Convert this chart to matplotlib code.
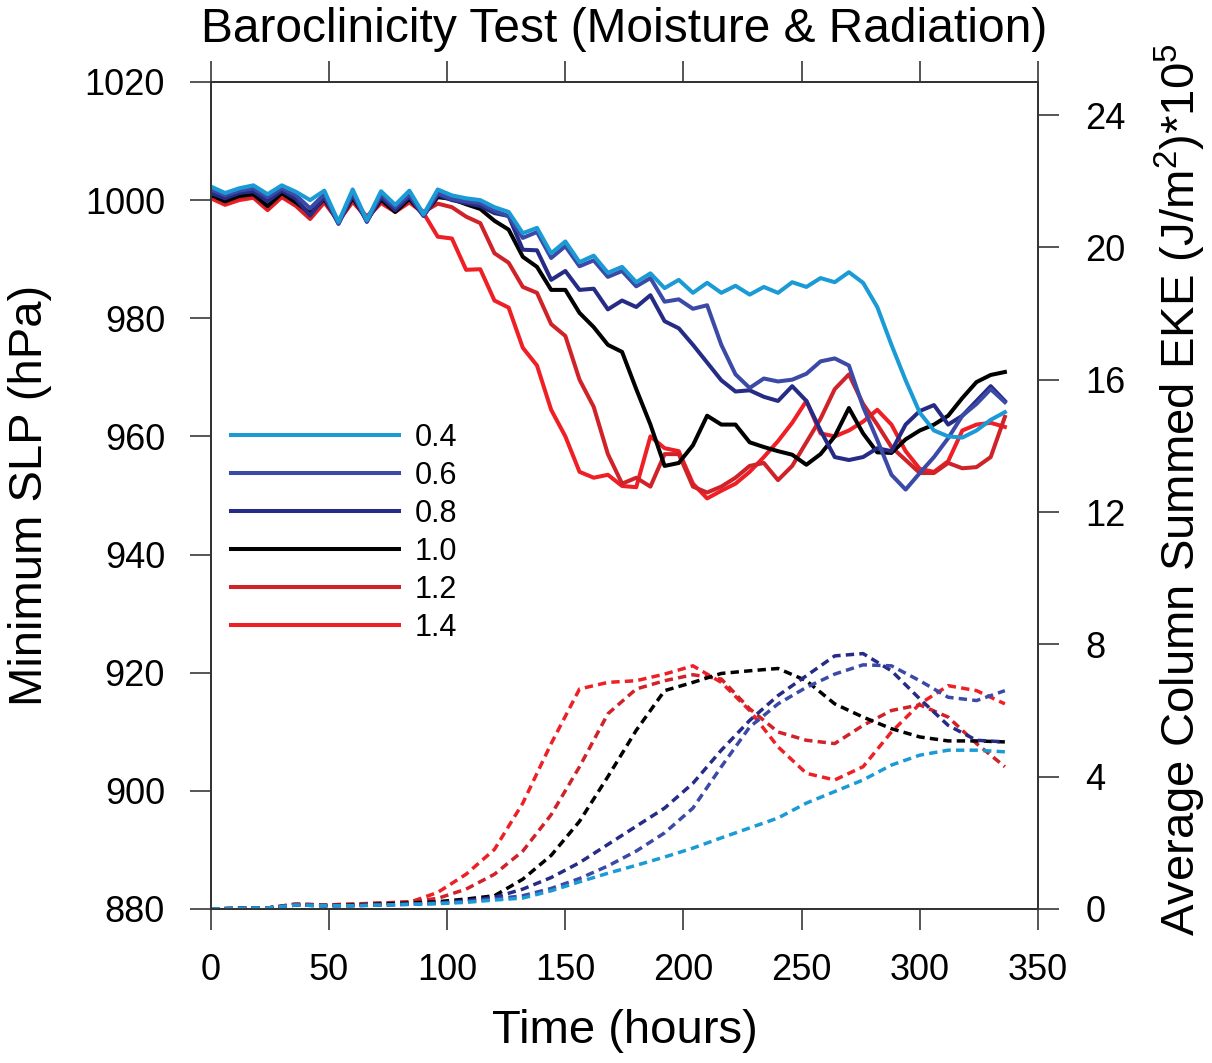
import numpy as np
import matplotlib
matplotlib.use("Agg")
import matplotlib.pyplot as plt

plt.rcParams['font.family'] = ['Liberation Sans', 'DejaVu Sans']
plt.rcParams['mathtext.fontset'] = 'custom'
plt.rcParams['mathtext.rm'] = 'Liberation Sans'
plt.rcParams['mathtext.it'] = 'Liberation Sans'

# heures (SLP toutes les 6 h, EKE toutes les 12 h)
hours_slp = list(range(0, 337, 6))
hours_eke = list(range(0, 337, 12))

labels = ['0.4', '0.6', '0.8', '1.0', '1.2', '1.4']
colors = ['#1b9bd5', '#3c4aa7', '#262b86', '#000000', '#cf2229', '#ef1f26']

# pression minimale (hPa)
slp_04 = [1002.3, 1001.2, 1002.0, 1002.5, 1001.0, 1002.5, 1001.4, 1000.0, 1001.6, 996.3, 1001.8, 996.6,
          1001.5, 999.2, 1001.6, 997.6, 1001.8,
          1000.8, 1000.3, 1000.0, 998.8, 998.0, 994.4, 995.3, 991.0, 993.0, 989.5, 990.6, 987.7, 988.7,
          986.1, 987.6, 985.1, 986.5, 984.3, 986.0, 984.3, 985.5, 984.0, 985.3, 984.3, 986.1, 985.3,
          986.8, 986.1, 987.8, 986.0, 981.9, 975.5, 969.5, 964.0, 961.0, 960.0, 959.8, 961.0, 962.8, 964.1]
slp_06 = [1001.8, 1000.8, 1001.6, 1002.0, 1000.5, 1002.0, 1000.8, 998.6, 1001.0, 996.0, 1001.3, 996.3,
          1001.0, 998.8, 1001.0, 997.4, 1001.2,
          1000.2, 999.8, 999.5, 998.2, 997.3, 993.6, 994.6, 990.2, 992.2, 988.8, 989.8, 987.0, 988.0,
          985.4, 986.8, 982.8, 983.2, 981.6, 982.2, 975.5, 970.5, 968.2, 969.8, 969.3, 969.6, 970.6,
          972.7, 973.2, 972.0, 965.0, 959.4, 953.5, 951.0, 953.8, 956.5, 959.7, 963.5, 965.5, 968.0, 965.8]
slp_08 = [1001.2, 1000.3, 1001.2, 1001.5, 999.8, 1001.6, 1000.2, 997.4, 1000.5, 996.0, 1000.8, 996.4,
          1000.5, 998.3, 1000.6, 997.3, 1000.9,
          1000.0, 999.5, 999.0, 997.8, 997.3, 991.6, 991.5, 986.5, 988.0, 984.8, 985.0, 981.5, 983.0,
          981.9, 983.9, 979.5, 978.3, 975.5, 972.5, 969.5, 967.6, 967.8, 966.7, 966.0, 968.5, 966.0,
          961.0, 956.5, 956.0, 956.5, 958.0, 957.5, 962.0, 964.3, 965.3, 962.0, 963.5, 966.0, 968.5, 966.0]
slp_10 = [1000.9, 999.8, 1000.7, 1001.0, 999.0, 1001.2, 999.6, 997.8, 1000.2, 996.3, 1000.4, 996.6,
          1000.1, 998.0, 1000.2, 997.5, 1000.5,
          1000.2, 999.3, 998.5, 996.5, 995.0, 990.4, 988.7, 984.8, 984.8, 980.9, 978.5, 975.5, 974.3,
          968.0, 962.0, 955.0, 955.5, 958.5, 963.5, 962.0, 962.0, 959.0, 958.2, 957.5, 956.9, 955.2,
          957.0, 960.0, 964.8, 960.5, 957.3, 957.2, 959.5, 961.0, 962.0, 963.5, 966.5, 969.2, 970.4, 970.9]
slp_12 = [1000.6, 999.5, 1000.4, 1000.7, 998.6, 1000.8, 999.2, 997.0, 999.9, 996.5, 1000.0, 997.2,
          999.8, 998.3, 999.9, 998.0, 999.4,
          998.8, 997.2, 996.1, 991.0, 989.4, 985.3, 984.3, 979.0, 977.0, 969.6, 965.0, 957.0, 952.0,
          953.0, 951.5, 957.0, 957.0, 951.5, 950.5, 951.5, 953.0, 955.0, 955.5, 952.6, 955.0, 959.0,
          963.0, 968.0, 970.5, 965.5, 962.0, 958.2, 956.0, 953.8, 953.8, 955.5, 954.6, 954.8, 956.5, 963.3]
slp_14 = [1000.3, 999.2, 1000.0, 1000.4, 998.3, 1000.5, 999.0, 996.8, 999.6, 996.4, 999.7, 997.0,
          999.5, 998.0, 999.6, 997.8, 993.8,
          993.5, 988.2, 988.3, 983.0, 981.8, 975.0, 972.0, 964.5, 960.0, 954.0, 953.0, 953.5, 951.6,
          951.4, 960.0, 958.0, 957.5, 952.0, 949.5, 950.8, 952.0, 954.0, 956.5, 959.2, 962.3, 966.0,
          960.5, 960.0, 961.0, 962.5, 964.5, 962.0, 957.5, 954.5, 954.0, 955.8, 961.0, 962.0, 962.3, 961.6]

# EKE moyenne (x 10^5 J/m2)
eke_04 = [0.0, 0.02, 0.03, 0.12, 0.1, 0.1, 0.12, 0.14, 0.16, 0.2, 0.27, 0.33, 0.55, 0.82, 1.08,
          1.32, 1.57, 1.84, 2.15, 2.45, 2.75, 3.2, 3.55, 3.9, 4.35, 4.65, 4.8, 4.8, 4.75]
eke_06 = [0.0, 0.02, 0.03, 0.12, 0.1, 0.1, 0.12, 0.14, 0.17, 0.22, 0.3, 0.4, 0.62, 0.92, 1.3,
          1.75, 2.3, 3.05, 4.3, 5.5, 6.2, 6.7, 7.1, 7.38, 7.35, 6.9, 6.4, 6.3, 6.6]
eke_08 = [0.0, 0.02, 0.03, 0.12, 0.1, 0.1, 0.12, 0.15, 0.18, 0.25, 0.35, 0.6, 0.95, 1.4, 1.95,
          2.5, 3.05, 3.8, 4.8, 5.7, 6.45, 7.05, 7.65, 7.72, 7.2, 6.35, 5.55, 5.1, 5.05]
eke_10 = [0.0, 0.02, 0.03, 0.12, 0.1, 0.12, 0.15, 0.18, 0.22, 0.3, 0.4, 0.9, 1.62, 2.65, 4.0,
          5.4, 6.6, 6.85, 7.12, 7.2, 7.27, 6.9, 6.2, 5.8, 5.45, 5.2, 5.08, 5.08, 5.05]
eke_12 = [0.0, 0.02, 0.03, 0.15, 0.12, 0.14, 0.18, 0.22, 0.32, 0.6, 1.05, 1.75, 2.85, 4.3, 5.9,
          6.65, 6.9, 7.08, 6.95, 6.05, 5.35, 5.1, 5.0, 5.55, 6.0, 6.17, 5.8, 5.0, 4.3]
eke_14 = [0.0, 0.02, 0.03, 0.15, 0.12, 0.15, 0.18, 0.2, 0.5, 1.05, 1.8, 3.2, 5.0, 6.65, 6.85,
          6.9, 7.1, 7.35, 6.85, 6.0, 4.9, 4.1, 3.9, 4.3, 5.35, 6.2, 6.75, 6.6, 6.2]

slp = [slp_04, slp_06, slp_08, slp_10, slp_12, slp_14]
eke = [eke_04, eke_06, eke_08, eke_10, eke_12, eke_14]

fig = plt.figure(figsize=(12.12, 10.63), dpi=100)
ax = fig.add_axes([0.174, 0.1449, 0.6824, 0.778])
ax2 = ax.twinx()

lignes = {}
for i in range(len(labels) - 1, -1, -1):
    l, = ax.plot(hours_slp, slp[i], color=colors[i], lw=2.9, solid_joinstyle='round')
    lignes[i] = l
    ax2.plot(hours_eke, eke[i], color=colors[i], lw=2.5, linestyle=(0, (2.4, 1.5)))

ax.set_xlim(0, 350)
ax.set_ylim(880, 1020)
ax2.set_ylim(0, 25)
ax.set_xticks(range(0, 351, 50))
ax.set_yticks(range(880, 1021, 20))
ax2.set_yticks(range(0, 25, 4))

tick_col = '#555555'
ax.tick_params(axis='x', top=True, direction='out', length=15, width=1.4, color=tick_col,
               labelsize=26, pad=17)
ax.tick_params(axis='y', direction='out', length=15, width=1.4, color=tick_col,
               labelsize=26, pad=18)
ax2.tick_params(axis='y', direction='out', length=15, width=1.4, color=tick_col,
                labelsize=26, pad=19)
for a in (ax, ax2):
    for s in a.spines.values():
        s.set_linewidth(1.3)
        s.set_color('#333333')

ax.set_xlabel('Time (hours)', fontsize=34, va='center')
ax.xaxis.set_label_coords(0.5, -0.148)
ax.set_ylabel('Minimum SLP (hPa)', fontsize=34, va='center')
ax.yaxis.set_label_coords(-0.219, 0.5)
ax2.set_ylabel('Average Column Summed EKE (J/m$^2$)*10$^5$', fontsize=34, va='center')
ax2.yaxis.set_label_coords(1.172, 0.507)
ax.set_title('Baroclinicity Test (Moisture & Radiation)', fontsize=34.5, y=1.038)

ax.legend([lignes[i] for i in range(len(labels))], labels, loc='upper left',
          bbox_to_anchor=(0.024, 0.588), frameon=False, fontsize=22, handlelength=5.5,
          handletextpad=0.52, labelspacing=0.265, borderpad=0, borderaxespad=0)

fig.savefig('out.png', dpi=100)
